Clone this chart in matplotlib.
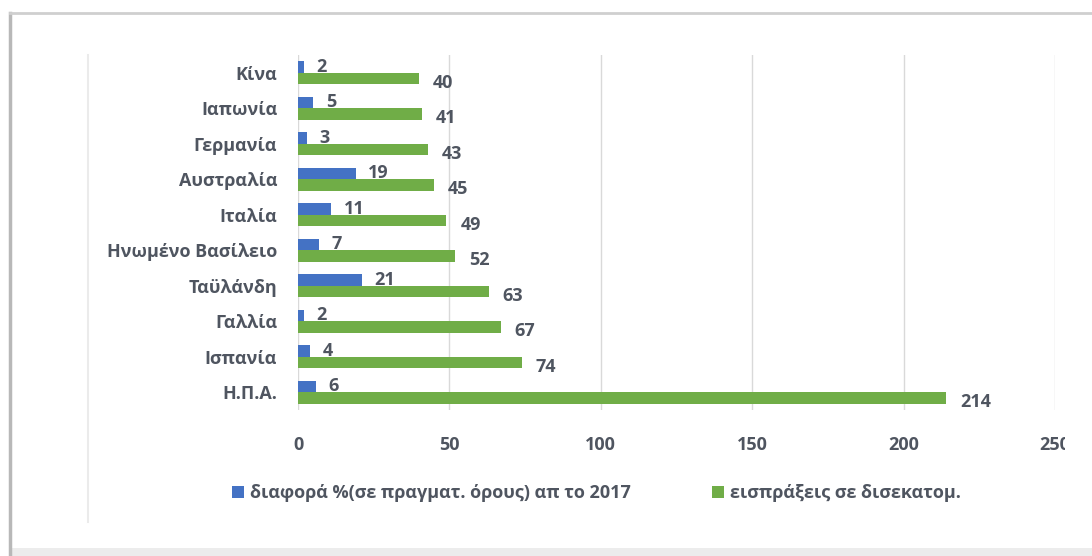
import matplotlib
matplotlib.use("Agg")
import matplotlib.pyplot as plt
import numpy as np
from matplotlib.patches import Rectangle
from matplotlib.lines import Line2D
from matplotlib.transforms import Bbox

plt.rcParams['font.family'] = ['Open Sans', 'DejaVu Sans']

countries = ['Κίνα', 'Ιαπωνία', 'Γερμανία', 'Αυστραλία', 'Ιταλία',
             'Ηνωμένο Βασίλειο', 'Ταϋλάνδη', 'Γαλλία', 'Ισπανία', 'Η.Π.Α.']
diff_pct = [2, 5, 3, 19, 11, 7, 21, 2, 4, 6]
receipts = [40, 41, 43, 45, 49, 52, 63, 67, 74, 214]
x_ticks = [0, 50, 100, 150, 200, 250]

label_blue = 'διαφορά %(σε πραγματ. όρους) απ το 2017'
label_green = 'εισπράξεις σε δισεκατομ.'

blue = '#4472C4'
green = '#70AD47'
txt = '#4f5560'
fs = 13

fig = plt.figure(figsize=(10.92, 5.56), dpi=100)
ax = fig.add_axes([0.2729, 0.2626, 0.6932, 0.6385])

y = np.arange(len(countries))
h = 0.33
ax.barh(y - h / 2, diff_pct, height=h, color=blue, label=label_blue, zorder=3)
ax.barh(y + h / 2, receipts, height=h, color=green, label=label_green, zorder=3)

# value labels next to each bar
for yi, v in zip(y, diff_pct):
    ax.annotate(str(v), (v, yi - h / 2), xytext=(9, 0), textcoords='offset points',
                va='center', ha='left', fontsize=fs, fontweight='bold', color=txt, zorder=4)
for yi, v in zip(y, receipts):
    ax.annotate(str(v), (v, yi + h / 2), xytext=(10, -3), textcoords='offset points',
                va='center', ha='left', fontsize=fs, fontweight='bold', color=txt, zorder=4)

ax.set_xlim(0, 250)
ax.set_ylim(len(countries) - 0.5, -0.5)
ax.set_xticks(x_ticks)
ax.set_yticks(y)
ax.set_yticklabels(countries)
ax.tick_params(axis='both', length=0, labelsize=fs, labelcolor=txt)
ax.tick_params(axis='x', pad=19)
ax.tick_params(axis='y', pad=15)
for lbl in ax.get_xticklabels() + ax.get_yticklabels():
    lbl.set_fontweight('bold')
ax.grid(axis='x', color='#d9d9d9', linewidth=1, zorder=0)
for s in ax.spines.values():
    s.set_visible(False)

leg = fig.legend(loc='center', bbox_to_anchor=(0.546, 0.113), ncol=2, frameon=False,
                 handlelength=0.7, handleheight=0.7, handletextpad=0.3,
                 columnspacing=4.5, prop={'weight': 'bold', 'size': fs})
for t in leg.get_texts():
    t.set_color(txt)

# chart frame
fig.add_artist(Line2D([10 / 1092, 10 / 1092], [0, 1 - 13 / 556], color='#b8b8b8', lw=2.5,
                      transform=fig.transFigure))
fig.add_artist(Line2D([10 / 1092, 1], [1 - 13 / 556, 1 - 13 / 556], color='#cfcfcf', lw=2,
                      transform=fig.transFigure))
fig.add_artist(Rectangle((10 / 1092, 0), 1, 8 / 556, color='#ececec', lw=0,
                         transform=fig.transFigure))
fig.add_artist(Line2D([88 / 1092, 88 / 1092], [1 - 522 / 556, 1 - 55 / 556], color='#ebebeb',
                      lw=1.5, transform=fig.transFigure))

fig.canvas.draw()
last = ax.get_xticklabels()[-1]
last.set_clip_box(Bbox([[0, 0], [1065, 556]]))
last.set_clip_on(True)

fig.savefig('out.png', dpi=100)
